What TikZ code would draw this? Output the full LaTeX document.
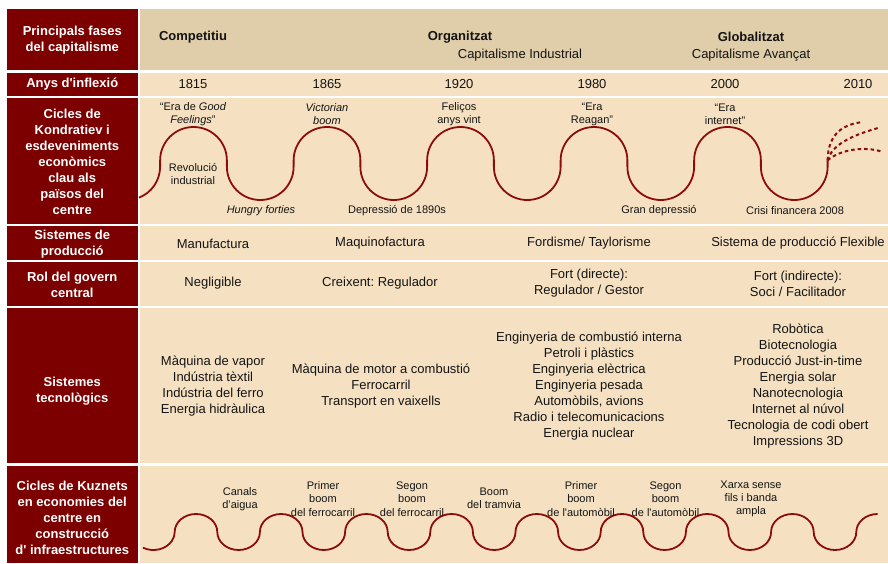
\documentclass[tikz,border=0pt]{standalone}
\usepackage{fontspec}
\setmainfont{Liberation Sans}[Ligatures=TeXOff]
\frenchspacing
\definecolor{maroonc}{RGB}{125,0,0}
\definecolor{tanc}{RGB}{224,205,170}
\definecolor{lightc}{RGB}{245,225,194}
\definecolor{wavec}{RGB}{140,12,12}
\definecolor{txtc}{RGB}{20,20,20}
\tikzset{
  lbl/.style={text=white, font=\bfseries\fontsize{13}{16}\selectfont, align=center, inner sep=0pt, yshift=-1.5pt},
  txt/.style={text=txtc, font=\fontsize{13}{16}\selectfont, align=center, inner sep=0pt, yshift=-1.5pt},
  hdb/.style={text=txtc, font=\bfseries\fontsize{13}{16}\selectfont, align=center, inner sep=0pt, yshift=-1.5pt},
  sm/.style={text=txtc, font=\fontsize{11}{13}\selectfont, align=center, inner sep=0pt, yshift=-1.5pt},
  smk/.style={text=txtc, font=\fontsize{11}{13.3}\selectfont, align=center, inner sep=0pt, yshift=-1.5pt},
  wave/.style={draw=wavec, line width=1.8pt},
  dwave/.style={draw=wavec, line width=2pt, dash pattern=on 3.5pt off 3pt}
}
\begin{document}
\begin{tikzpicture}[x=1pt,y=1pt]
\fill[white] (0,0) rectangle (888,563);
\useasboundingbox (0,0) rectangle (888,563);
% rows: left cells and content cells
\fill[maroonc] (7,493) rectangle (137.5,554);
\fill[tanc] (140,493) rectangle (888,554);
\fill[maroonc] (7,467) rectangle (137.5,490.3);
\fill[lightc] (140,467) rectangle (888,490.3);
\fill[maroonc] (7,339) rectangle (137.5,465);
\fill[lightc] (140,339) rectangle (888,465);
\fill[maroonc] (7,303) rectangle (137.5,336.5);
\fill[lightc] (140,303) rectangle (888,336.5);
\fill[maroonc] (7,257) rectangle (137.5,301);
\fill[lightc] (140,257) rectangle (888,301);
\fill[maroonc] (7,100) rectangle (137.5,255);
\fill[lightc] (140,100) rectangle (888,255);
\fill[maroonc] (7,0) rectangle (137.5,97);
\fill[lightc] (140,0) rectangle (888,97);

% left labels
\node[lbl] (l1) at (72.25,524.5) {Principals fases\\del capitalisme};
\node[lbl] (l2) at (72.25,480) {Anys d'inflexió};
\node[lbl] (l3) at (72.25,402.5) {Cicles de\\Kondratiev i\\esdeveniments\\econòmics\\clau als\\països del\\centre};
\node[lbl] (l4) at (72.25,320.5) {Sistemes de\\producció};
\node[lbl] (l5) at (72.25,280) {Rol del govern\\central};
\node[lbl] (l6) at (72.25,173.5) {Sistemes\\tecnològics};
\node[lbl] (l7) at (72.25,47) {Cicles de Kuznets\\en economies del\\centre en\\construcció\\d' infraestructures};

% header
\node[hdb] (h1) at (193,527.5) {Competitiu};
\node[hdb] (h2) at (460,527.5) {Organitzat};
\node[txt] (h3) at (520,509.5) {Capitalisme Industrial};
\node[hdb] (h4) at (751,527.5) {Globalitzat};
\node[txt] (h5) at (751,509.5) {Capitalisme Avançat};

% years
\node[txt] (y1) at (193,480.5) {1815};
\node[txt] (y2) at (327,480.5) {1865};
\node[txt] (y3) at (459,480.5) {1920};
\node[txt] (y4) at (592,480.5) {1980};
\node[txt] (y5) at (725,480.5) {2000};
\node[txt] (y6) at (858,480.5) {2010};

% Kondratiev wave
\draw[wave] (138.98,365.32) arc[start angle=-68.5, end angle=0, radius=33.375pt] -- ++(0,6.25)
  \foreach \i in {1,...,5} {
    arc[start angle=180, end angle=0, radius=33.375pt] -- ++(0,-6.25)
    arc[start angle=180, end angle=360, radius=33.375pt] -- ++(0,6.25)
  } coordinate (kend);
\draw[dwave] (kend) .. controls (828,431) and (845,439) .. (863,441);
\draw[dwave] (kend) .. controls (832,418) and (850,427) .. (878,435);
\draw[dwave] (kend) .. controls (838,412) and (862,418) .. (883,411);

% Kondratiev labels
\node[sm] (k1) at (193,450.5) {“Era de \textit{Good}\\\textit{Feelings}”};
\node[sm] (k2) at (327,450.5) {\textit{Victorian}\\\textit{boom}};
\node[sm] (k3) at (459,450.5) {Feliços\\anys vint};
\node[sm] (k4) at (592,450.5) {“Era\\Reagan”};
\node[sm] (k5) at (725,450.5) {“Era\\internet”};
\node[sm] (k6) at (193,390) {Revolució\\industrial};
\node[sm] (k7) at (261,354) {\textit{Hungry forties}};
\node[sm] (k8) at (397,354) {Depressió de 1890s};
\node[sm] (k9) at (659,354) {Gran depressió};
\node[sm] (k10) at (795,354) {Crisi financera 2008};

% production systems
\node[txt] (p1) at (213,321) {Manufactura};
\node[txt] (p2) at (380,321) {Maquinofactura};
\node[txt] (p3) at (589,321) {Fordisme/ Taylorisme};
\node[txt] (p4) at (798,321) {Sistema de producció Flexible};

% government role
\node[txt] (g1) at (213,281) {Negligible};
\node[txt] (g2) at (380,281) {Creixent: Regulador};
\node[txt] (g3) at (589,281) {Fort (directe):\\Regulador / Gestor};
\node[txt] (g4) at (798,281) {Fort (indirecte):\\Soci / Facilitador};

% technological systems
\node[txt] (t1) at (213,178) {Màquina de vapor\\Indústria tèxtil\\Indústria del ferro\\Energia hidràulica};
\node[txt] (t2) at (381,178) {Màquina de motor a combustió\\Ferrocarril\\Transport en vaixells};
\node[txt] (t3) at (589,178) {Enginyeria de combustió interna\\Petroli i plàstics\\Enginyeria elèctrica\\Enginyeria pesada\\Automòbils, avions\\Radio i telecomunicacions\\Energia nuclear};
\node[txt] (t4) at (798,178) {Robòtica\\Biotecnologia\\Producció Just-in-time\\Energia solar\\Nanotecnologia\\Internet al núvol\\Tecnologia de codi obert\\Impressions 3D};

% Kuznets wave
\draw[wave] (143.0,15.29) arc[start angle=240.8, end angle=360, x radius=21.3pt, y radius=18pt]
  \foreach \i in {1,...,8} {
    arc[start angle=180, end angle=0, x radius=21.3pt, y radius=18pt]
    arc[start angle=180, end angle=360, x radius=21.3pt, y radius=18pt]
  }
  arc[start angle=180, end angle=90, x radius=21.3pt, y radius=18pt] coordinate (zend);

% Kuznets labels
\node[smk] (c1) at (240,65) {Canals\\d’aigua};
\node[smk] (c2) at (323,65.5) {Primer\\boom\\del ferrocarril};
\node[smk] (c3) at (412,65.5) {Segon\\boom\\del ferrocarril};
\node[smk] (c4) at (494,66) {Boom\\del tramvia};
\node[smk] (c5) at (581,65.5) {Primer\\boom\\de l'automòbil};
\node[smk] (c6) at (665.5,65.5) {Segon\\boom\\de l'automòbil};
\node[smk] (c7) at (751,65.5) {Xarxa sense\\fils i banda\\ampla};
\end{tikzpicture}
\end{document}
